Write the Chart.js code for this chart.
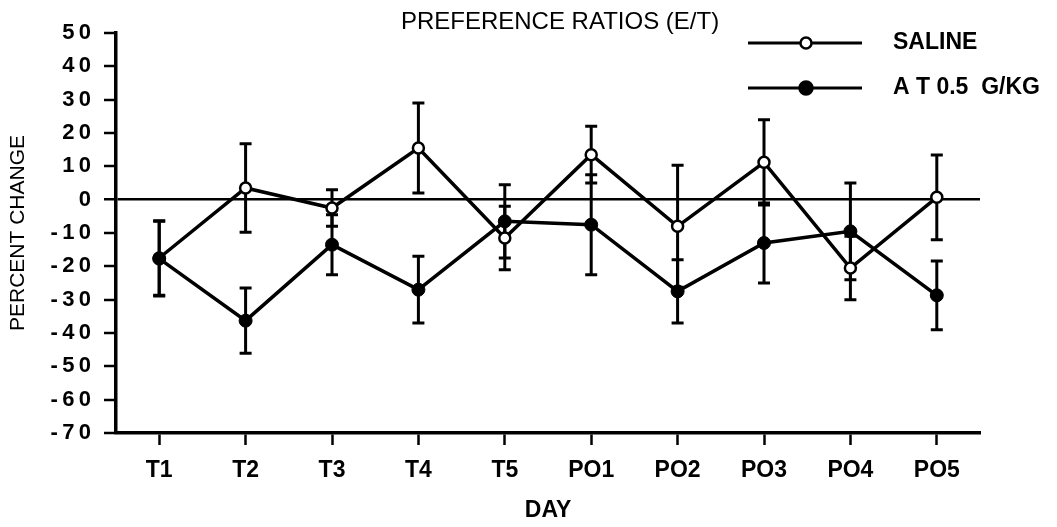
<!DOCTYPE html>
<html>
<head>
<meta charset="utf-8">
<script src="https://cdn.jsdelivr.net/npm/chart.js@4"></script>
<style>
  html, body { margin: 0; padding: 0; background: #fff; }
  #wrap { width: 1057px; height: 527px; }
</style>
</head>
<body>
<div id="wrap"><canvas id="chartPref" width="1057" height="527"></canvas></div>
<script>
const days = ['T1', 'T2', 'T3', 'T4', 'T5', 'PO1', 'PO2', 'PO3', 'PO4', 'PO5'];

// mean percent change and error (+/-) per day
const saline = [-17.5, 3.5, -2.5, 15.5, -11.5, 13.5, -8, 11.2, -20.5, 0.7];
const salineErr = [11.2, 13.3, 5.5, 13.5, 9.5, 8.5, 18.3, 12.8, 9.5, 12.7];
const atDose = [-17.7, -36.3, -13.5, -27, -6.5, -7.5, -27.5, -13, -9.5, -28.7];
const atDoseErr = [11.2, 9.8, 9, 10, 11, 15, 9.5, 12, 14.5, 10.3];

const yTicksMin = -70;
const yTicksMax = 50;

const FONT = '"Liberation Sans", Arial, Helvetica, sans-serif';

const spaced = (v) => String(v).split('').join('\u2009');

// error bars under the markers
const errorBars = {
    id: 'errorBars',
    beforeDatasetsDraw(chart) {
        const ctx = chart.ctx;
        const x = chart.scales.x;
        const y = chart.scales.y;
        const sets = [[saline, salineErr], [atDose, atDoseErr]];
        ctx.save();
        ctx.strokeStyle = '#000';
        ctx.lineWidth = 3;
        sets.forEach(([vals, errs]) => {
            vals.forEach((v, i) => {
                const px = x.getPixelForValue(i);
                const top = y.getPixelForValue(v + errs[i]);
                const bot = y.getPixelForValue(v - errs[i]);
                ctx.beginPath();
                ctx.moveTo(px, top);
                ctx.lineTo(px, bot);
                ctx.moveTo(px - 6, top);
                ctx.lineTo(px + 6, top);
                ctx.moveTo(px - 6, bot);
                ctx.lineTo(px + 6, bot);
                ctx.stroke();
            });
        });
        ctx.restore();
    }
};

// heading and the line/marker key in the upper right
const headerKey = {
    id: 'headerKey',
    afterDraw(chart) {
        const ctx = chart.ctx;
        ctx.save();
        ctx.fillStyle = '#000';
        ctx.textBaseline = 'middle';
        ctx.textAlign = 'center';
        ctx.font = '24px ' + FONT;
        ctx.fillText('PREFERENCE RATIOS (E/T)', 560, 22);

        const rows = [
            { label: 'SALINE', y: 43, fill: '#fff', r: 5.5 },
            { label: 'A T 0.5  G/KG', y: 88, fill: '#000', r: 6.5 }
        ];
        rows.forEach((row) => {
            ctx.strokeStyle = '#000';
            ctx.lineWidth = 3;
            ctx.beginPath();
            ctx.moveTo(748, row.y);
            ctx.lineTo(862, row.y);
            ctx.stroke();
            ctx.beginPath();
            ctx.arc(806, row.y, row.r, 0, Math.PI * 2);
            ctx.fillStyle = row.fill;
            ctx.fill();
            ctx.lineWidth = 2.5;
            ctx.stroke();
            ctx.fillStyle = '#000';
            ctx.textAlign = 'left';
            ctx.font = 'bold 23px ' + FONT;
            ctx.fillText(row.label, 893, row.y);
        });
        ctx.restore();
    }
};

const ctx = document.getElementById('chartPref').getContext('2d');

const chartPref = new Chart(ctx, {
    type: 'line',
    data: {
        labels: days,
        datasets: [
            {
                label: 'AT 0.5 G/KG',
                data: atDose,
                borderColor: '#000',
                borderWidth: 3.5,
                pointRadius: 6.5,
                pointBackgroundColor: '#000',
                pointBorderColor: '#000',
                pointBorderWidth: 1,
                tension: 0
            },
            {
                label: 'SALINE',
                data: saline,
                borderColor: '#000',
                borderWidth: 3.5,
                pointRadius: 5.5,
                pointBackgroundColor: '#fff',
                pointBorderColor: '#000',
                pointBorderWidth: 2.5,
                tension: 0
            }
        ]
    },
    options: {
        responsive: false,
        animation: false,
        devicePixelRatio: 1,
        layout: { padding: { top: 33, right: 77, left: 0, bottom: 0 } },
        plugins: {
            legend: { display: false },
            title: { display: false },
            tooltip: { enabled: false }
        },
        scales: {
            x: {
                offset: true,
                afterFit(scale) { scale.height = 94; },
                border: { display: true, color: '#000', width: 3.5 },
                grid: {
                    offset: false,
                    drawOnChartArea: false,
                    tickLength: 12,
                    tickColor: '#000',
                    tickWidth: 2.5
                },
                ticks: {
                    color: '#000',
                    padding: 12,
                    maxRotation: 0,
                    font: { family: FONT, size: 23, weight: 'bold' }
                },
                title: {
                    display: true,
                    text: 'DAY',
                    color: '#000',
                    padding: { top: 0, bottom: 3 },
                    font: { family: FONT, size: 23, weight: 'bold' }
                }
            },
            y: {
                min: yTicksMin,
                max: yTicksMax,
                afterFit(scale) { scale.width = 116; },
                border: { display: true, color: '#000', width: 3.5 },
                grid: {
                    drawOnChartArea: true,
                    color: (c) => (c.tick && c.tick.value === 0 ? '#000' : 'rgba(0,0,0,0)'),
                    lineWidth: (c) => (c.tick && c.tick.value === 0 ? 2.5 : 0),
                    tickLength: 12,
                    tickColor: '#000',
                    tickWidth: 2.5
                },
                ticks: {
                    stepSize: 10,
                    color: '#000',
                    padding: 13,
                    callback: (v) => spaced(v),
                    font: { family: FONT, size: 22, weight: 'bold' }
                },
                title: {
                    display: true,
                    text: 'PERCENT CHANGE',
                    color: '#000',
                    padding: { top: 6, bottom: 0 },
                    font: { family: FONT, size: 21 }
                }
            }
        }
    },
    plugins: [errorBars, headerKey]
});
</script>
</body>
</html>
